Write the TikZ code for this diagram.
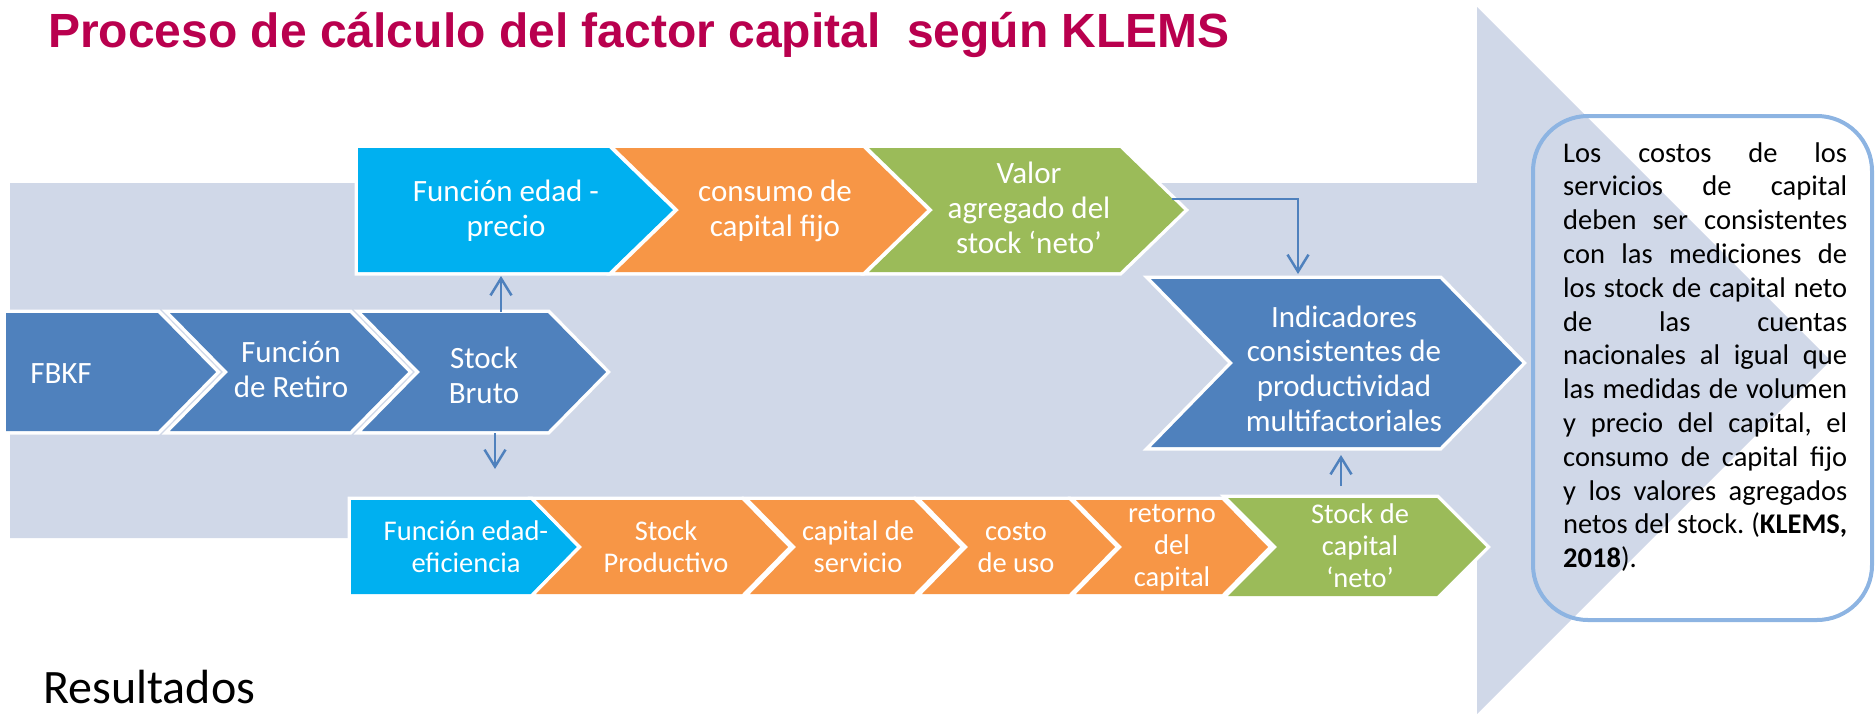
\documentclass[tikz,border=0pt]{standalone}
\usepackage{fontspec}
\setmainfont{Carlito}
\newfontfamily\titlefont{Liberation Sans}
\usetikzlibrary{arrows.meta}
\definecolor{bgarrow}{RGB}{208,216,232}
\definecolor{cblue}{RGB}{79,129,189}
\definecolor{ccyan}{RGB}{0,176,240}
\definecolor{corange}{RGB}{247,150,70}
\definecolor{cgreen}{RGB}{155,187,89}
\definecolor{boxline}{RGB}{141,180,226}
\definecolor{titlered}{RGB}{185,0,78}
\newcommand\cstack[1]{\vtop{\halign{\hfil##\hfil\cr#1\crcr}}}
\newcommand\lstack[1]{\vtop{\halign{##\hfil\cr#1\crcr}}}
\newcommand\jl[1]{\makebox[284pt][s]{#1}}
\tikzset{
  halo/.style={draw=white, line width=7pt, line join=miter},
  chevtxt/.style={text=white, inner sep=0pt, anchor=base, font=\fontsize{31}{35}\selectfont},
  lowtxt/.style={chevtxt, font=\fontsize{28.5}{32}\selectfont},
  conn/.style={draw=cblue, line width=2.5pt, -{Straight Barb[length=17pt,width=21pt]}},
}
% #1 L, #2 R, #3 T, #4 B, #5 depth, #6 colour
\newcommand\chevshape[6]{%
  \path[halo] (#1,#3) -- (#2,#3) -- ({#2+#5},{(#3+#4)/2}) -- (#2,#4) -- (#1,#4) -- ({#1+#5},{(#3+#4)/2}) -- cycle;
  \path[fill=#6] (#1,#3) -- (#2,#3) -- ({#2+#5},{(#3+#4)/2}) -- (#2,#4) -- (#1,#4) -- ({#1+#5},{(#3+#4)/2}) -- cycle;}
\newcommand\pentshape[6]{%
  \path[halo] (#1,#3) -- (#2,#3) -- ({#2+#5},{(#3+#4)/2}) -- (#2,#4) -- (#1,#4) -- cycle;
  \path[fill=#6] (#1,#3) -- (#2,#3) -- ({#2+#5},{(#3+#4)/2}) -- (#2,#4) -- (#1,#4) -- cycle;}
\begin{document}
\begin{tikzpicture}[x=1pt,y=-1pt]
\useasboundingbox (0,0) rectangle (1876,713);
% background arrow
\fill[bgarrow] (10,183) -- (1477,183) -- (1477,7) -- (1830.5,360.5) -- (1477,714) -- (1477,538) -- (10,538) -- cycle;
% title
\node[anchor=base west, inner sep=0pt, text=titlered, font=\titlefont\bfseries\fontsize{48}{52}\selectfont] (title) at (48,47) {Proceso de cálculo del factor capital\ \ según KLEMS};
\node[anchor=base west, inner sep=0pt, font=\fontsize{48}{52}\selectfont] (res) at (43,703) {Resultados};
% row 1 (blue)
\pentshape{6}{158}{313}{431}{58}{cblue}
\chevshape{170}{350}{313}{431}{58}{cblue}
\chevshape{362}{548}{313}{431}{58}{cblue}
% top row
\pentshape{358}{609}{148}{272}{64}{ccyan}
\chevshape{615}{863}{148}{272}{64}{corange}
\chevshape{869}{1120}{148}{272}{64}{cgreen}
% indicadores
\chevshape{1151}{1440}{279}{447}{82}{cblue}
% lower row
\pentshape{351}{531}{500}{594}{46}{ccyan}
\chevshape{536}{742}{500}{594}{46}{corange}
\chevshape{750}{914}{500}{594}{46}{corange}
\chevshape{922}{1069}{500}{594}{46}{corange}
\chevshape{1076}{1222}{500}{594}{46}{corange}
\chevshape{1228}{1437}{498}{596}{49}{cgreen}
% right box
\draw[boxline, line width=4pt, rounded corners=55pt] (1533,116) rectangle (1872,620);
% connector end points
\coordinate (sbUp0) at (501,312);
\coordinate (fepBot) at (501,276);
\coordinate (sbDn0) at (495,433);
\coordinate (feeTop) at (495,469);
\coordinate (vaOut) at (1172,199);
\coordinate (vaBend) at (1298,199);
\coordinate (indTop) at (1298,274);
\coordinate (scnTop) at (1341,486);
\coordinate (indBot) at (1341,455);
\draw[conn] (sbUp0) -- (fepBot);
\draw[conn] (sbDn0) -- (feeTop);
\draw[conn] (vaOut) -- (vaBend) -- (indTop);
\draw[conn] (scnTop) -- (indBot);
% texts row 1
\node[chevtxt] (tFBKF) at (61,383) {FBKF};
\node[chevtxt] (tRet) at (291,362) {\cstack{Función\cr de Retiro}};
\node[chevtxt] (tSB) at (484,368) {\cstack{Stock\cr Bruto}};
% texts top row
\node[chevtxt] (tFEP) at (506,201) {\cstack{Función edad -\cr precio}};
\node[chevtxt] (tCCF) at (775,201) {\cstack{consumo de\cr capital fijo}};
\node[chevtxt] (tVA) at (1029,183) {\cstack{Valor\cr agregado del\cr stock ‘neto’}};
% indicadores
\node[chevtxt, font=\fontsize{31}{34.7}\selectfont] (tInd) at (1344,327) {\cstack{Indicadores\cr consistentes de\cr productividad\cr multifactoriales}};
% lower row texts
\node[lowtxt] (tFEE) at (466,540) {\cstack{Función edad-\cr eficiencia}};
\node[lowtxt] (tSP) at (666,540) {\cstack{Stock\cr Productivo}};
\node[lowtxt] (tCS) at (858,540) {\cstack{capital de\cr servicio}};
\node[lowtxt] (tCU) at (1016,540) {\cstack{costo\cr de uso}};
\node[lowtxt] (tRC) at (1172,522) {\cstack{retorno\cr del\cr capital}};
\node[lowtxt] (tSCN) at (1360,523) {\cstack{Stock de\cr capital\cr ‘neto’}};
% box text
\node[anchor=base west, inner sep=0pt, font=\fontsize{28.5}{33.8}\selectfont\frenchspacing] (tBox) at (1563,162) {\lstack{%
\jl{Los costos de los}\cr
\jl{servicios de capital}\cr
\jl{deben ser consistentes}\cr
\jl{con las mediciones de}\cr
\jl{los stock de capital neto}\cr
\jl{de las cuentas}\cr
\jl{nacionales al igual que}\cr
\jl{las medidas de volumen}\cr
\jl{y precio del capital, el}\cr
\jl{consumo de capital fijo}\cr
\jl{y los valores agregados}\cr
\jl{netos del stock. (\textbf{KLEMS,}}\cr
\textbf{2018}).}};
\end{tikzpicture}
\end{document}
